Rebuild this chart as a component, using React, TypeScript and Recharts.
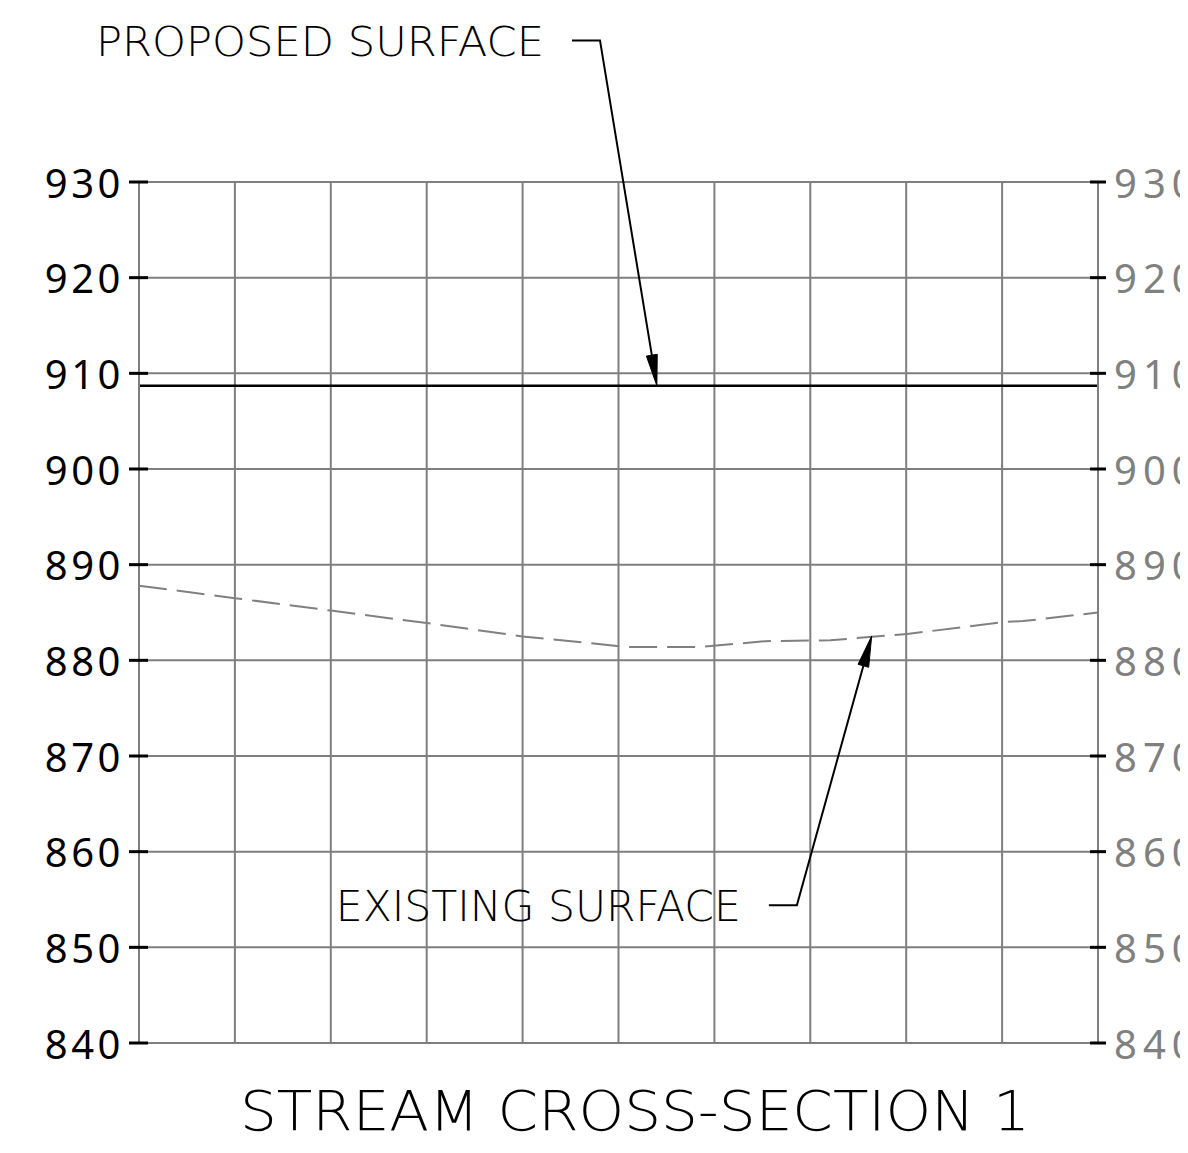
import React from 'react';
import { LineChart, Line, XAxis, YAxis, CartesianGrid, ReferenceLine } from 'recharts';

// ---- data ----
const stationTicks = [0, 10, 20, 30, 40, 50, 60, 70, 80, 90, 100];
const elevationTicks = [840, 850, 860, 870, 880, 890, 900, 910, 920, 930];

const proposedStations = [0, 100];
const proposedElevations = [908.7, 908.7];

const existingStations = [0, 10, 20, 30, 40, 50.9, 58.5, 65.3, 72.1, 80.1, 90.1, 92.2, 100];
const existingElevations = [887.8, 886.5, 885.2, 883.9, 882.5, 881.4, 881.4, 882.0, 882.1, 882.75, 884.0, 884.1, 885.0];

const proposedLabel = 'PROPOSED SURFACE';
const existingLabel = 'EXISTING SURFACE';
const chartTitle = 'STREAM CROSS-SECTION 1';

const proposedLeader = [{ x: 48.07, y: 944.8 }, { x: 54.0, y: 908.7 }];
const existingLeader = [{ x: 68.6, y: 854.4 }, { x: 76.4, y: 882.55 }];

const proposedData = proposedStations.map((s, i) => ({ station: s, elev: proposedElevations[i] }));
const existingData = existingStations.map((s, i) => ({ station: s, elev: existingElevations[i] }));

const GRID = '#7f7f7f';
const CAD_FONT = '"DejaVu Sans", sans-serif';
const NUM_FONT = '"Noto Sans", sans-serif';

const LeftTick = (props: any) => {
  const { x, y, payload } = props;
  return (
    <g>
      <line x1={x - 10} x2={x + 9} y1={y} y2={y} stroke="#000" strokeWidth={3} />
      <text x={x - 15} y={y} textAnchor="end" dominantBaseline="central" fontFamily={NUM_FONT}
        fontSize={40} fill="#000" letterSpacing={3.5}>{payload.value}</text>
    </g>
  );
};

const RightTick = (props: any) => {
  const { x, y, payload } = props;
  return (
    <g>
      <line x1={x - 8} x2={x + 8} y1={y} y2={y} stroke="#000" strokeWidth={3} />
      <text x={x + 16} y={y} textAnchor="start" dominantBaseline="central" fontFamily={NUM_FONT}
        fontSize={40} fill="#808080" letterSpacing={6}>{payload.value}</text>
    </g>
  );
};

const makeLeader = (label: string, textLen: number, fontSize: number) => (p: any) => {
  const { x1, y1, x2, y2 } = p;
  const tailStart = x1 - 28;
  const dx = x2 - x1;
  const dy = y2 - y1;
  const L = Math.hypot(dx, dy) || 1;
  const ux = dx / L;
  const uy = dy / L;
  const ah = 31;
  const aw = 5.5;
  const bx = x2 - ux * ah;
  const by = y2 - uy * ah;
  const pts = `${x2},${y2} ${bx - uy * aw},${by + ux * aw} ${bx + uy * aw},${by - ux * aw}`;
  return (
    <g>
      <polyline points={`${tailStart},${y1} ${x1},${y1} ${bx},${by}`} fill="none" stroke="#000" strokeWidth={2} />
      <polygon points={pts} fill="#000" stroke="#000" strokeWidth={1} />
      <text x={tailStart - 28} y={y1 + fontSize * 0.37} textAnchor="end" fontFamily={CAD_FONT}
        fontWeight={200} fontSize={fontSize} fill="#000" textLength={textLen} lengthAdjust="spacingAndGlyphs">
        {label}
      </text>
    </g>
  );
};

export default function App() {
  return (
    <div style={{ position: 'relative', width: 1180, height: 1145, overflow: 'hidden', background: '#fff' }}>
      <LineChart width={1180} height={1145} margin={{ top: 174, right: 0, left: 0, bottom: 110 }}>
        <CartesianGrid yAxisId="left" stroke={GRID} strokeWidth={2} horizontal vertical />
        <XAxis dataKey="station" type="number" domain={[0, 100]} ticks={stationTicks} hide height={0} />
        <YAxis yAxisId="left" orientation="left" type="number" domain={[840, 930]} ticks={elevationTicks}
          width={131} axisLine={{ stroke: GRID, strokeWidth: 2 }} tickLine={false} tickSize={0} tickMargin={0}
          tick={<LeftTick />} interval={0} />
        <YAxis yAxisId="right" orientation="right" type="number" domain={[840, 930]} ticks={elevationTicks}
          width={90} axisLine={{ stroke: GRID, strokeWidth: 2 }} tickLine={false} tickSize={0} tickMargin={0}
          tick={<RightTick />} interval={0} />
        <Line yAxisId="left" data={existingData} dataKey="elev" type="linear" stroke="#808080" strokeWidth={2}
          strokeDasharray="28 10" dot={false} isAnimationActive={false} />
        <Line yAxisId="right" data={proposedData} dataKey="elev" type="linear" stroke="none" strokeWidth={0}
          dot={false} activeDot={false} isAnimationActive={false} legendType="none" />
        <Line yAxisId="left" data={proposedData} dataKey="elev" type="linear" stroke="#000" strokeWidth={2.5}
          dot={false} isAnimationActive={false} />
        <ReferenceLine yAxisId="left" segment={proposedLeader} ifOverflow="visible"
          shape={makeLeader(proposedLabel, 448, 41)} />
        <ReferenceLine yAxisId="left" segment={existingLeader} ifOverflow="visible"
          shape={makeLeader(existingLabel, 405, 42)} />
      </LineChart>
      <svg width={1180} height={1145} style={{ position: 'absolute', left: 0, top: 0, pointerEvents: 'none' }}>
        <text x={232} y={1122} fontFamily={CAD_FONT} fontWeight={200} fontSize={55} fill="#000"
          textLength={790} lengthAdjust="spacingAndGlyphs">{chartTitle}</text>
      </svg>
    </div>
  );
}
